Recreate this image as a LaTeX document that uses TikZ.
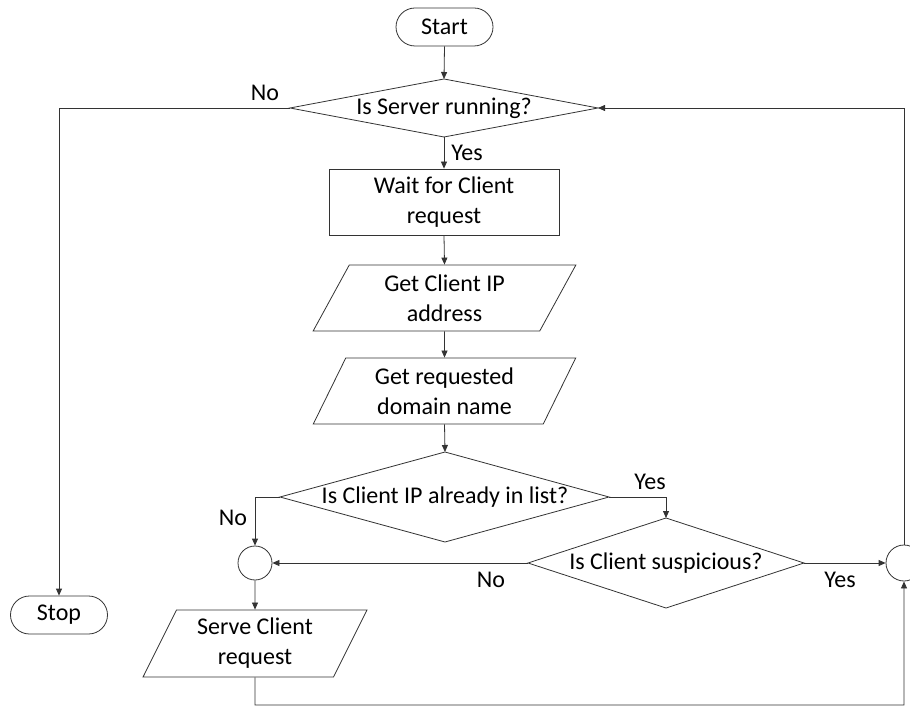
\documentclass[tikz,border=0pt]{standalone}
\usepackage{fontspec}
\setmainfont{Carlito}
\usetikzlibrary{shapes.geometric,arrows.meta}
\begin{document}
\begin{tikzpicture}[x=1pt,y=-1pt,
  every node/.style={font=\fontsize{24}{30}\selectfont, text=black, inner sep=0pt},
  shp/.style={draw=black!80, line width=0.8pt},
  term/.style={shp, rectangle, rounded corners=19pt, minimum width=97pt, minimum height=38pt},
  proc/.style={shp, rectangle, minimum width=230pt, minimum height=66pt, align=center},
  io/.style={shp, trapezium, trapezium left angle=64, trapezium right angle=116, trapezium stretches=true, align=center},
  conn/.style={shp, circle},
  txt/.style={align=center},
  lbl/.style={},
  line/.style={draw=black!80, line width=0.8pt},
  arr/.style={line, -{Triangle[length=7pt,width=6pt]}}
]
\useasboundingbox (0,0) rectangle (910,708);
\clip (0,0) rectangle (910,708);

% terminals
\node[term] (start) at (444.5,27) {Start};
\node[term] (stop) at (59,615) {Stop};

% decision 1
\node[txt] (d1) at (444,108) {Is Server running?};
\coordinate (d1n) at (444,79);
\coordinate (d1s) at (444,137);
\coordinate (d1w) at (290,108);
\coordinate (d1e) at (598,108);
\draw[shp] (d1n) -- (d1e) -- (d1s) -- (d1w) -- cycle;

% process
\node[proc] (wait) at (444,202) {Wait for Client\\request};

% io
\node[io, minimum width=263pt, minimum height=66pt] (ip) at (444.5,298) {Get Client IP\\address};
\node[io, minimum width=263pt, minimum height=66pt] (dom) at (444.5,391) {Get requested\\domain name};

% decision 2
\node[txt] (d2) at (445,497) {Is Client IP already in list?};
\coordinate (d2n) at (445,452);
\coordinate (d2s) at (445,542);
\coordinate (d2w) at (280,497);
\coordinate (d2e) at (609,497);
\draw[shp] (d2n) -- (d2e) -- (d2s) -- (d2w) -- cycle;

% decision 3
\node[txt] (d3) at (666,563) {Is Client suspicious?};
\coordinate (d3n) at (666,518);
\coordinate (d3s) at (666,608);
\coordinate (d3w) at (528,563);
\coordinate (d3e) at (804,563);
\draw[shp] (d3n) -- (d3e) -- (d3s) -- (d3w) -- cycle;

% connectors circles
\node[conn, minimum size=34pt] (c1) at (255,563) {};
\node[conn, minimum size=36pt] (c2) at (904,563) {};

% serve
\node[io, minimum width=224pt, minimum height=67pt] (serve) at (255,643.5) {Serve Client\\request};

% arrows
\draw[arr] (start.south) -- (d1n);
\draw[arr] (d1w) -| (stop.north);
\draw[arr] (d1s) -- (wait.north);
\draw[arr] (wait.south) -- (ip.north);
\draw[arr] (ip.south) -- (dom.north);
\draw[arr] (dom.south) -- (d2n);
\draw[arr] (d2w) -| (c1.north);
\draw[arr] (d2e) -| (d3n);
\draw[arr] (d3w) -- (c1.east);
\draw[arr] (d3e) -- (c2.west);
\draw[arr] (c2.north) |- (d1e);
\draw[arr] (c1.south) -- (serve.north);
\coordinate (bot) at (255,705);
\draw[arr] (serve.south) -- (bot) -| (c2.south);

% labels
\node[lbl] (l1) at (265,93) {No};
\node[lbl] (l2) at (467,153) {Yes};
\node[lbl] (l3) at (233,518) {No};
\node[lbl] (l4) at (650,482) {Yes};
\node[lbl] (l5) at (491,580) {No};
\node[lbl] (l6) at (840,580) {Yes};
\end{tikzpicture}
\end{document}
